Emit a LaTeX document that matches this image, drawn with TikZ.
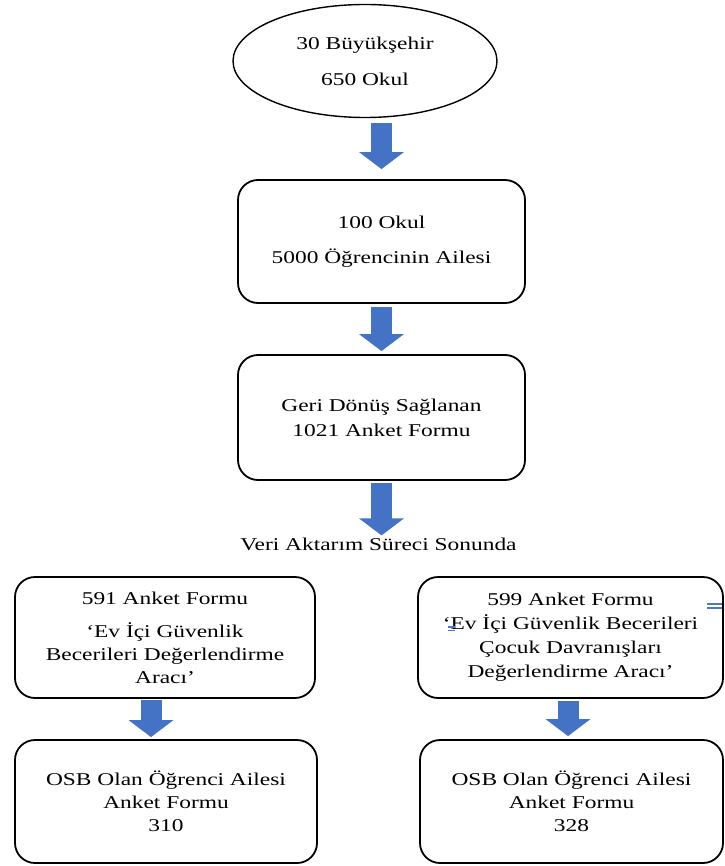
\documentclass[tikz,border=0pt]{standalone}
\usepackage{fontspec}
\setmainfont{Liberation Serif}[FakeStretch=1.3]
\usetikzlibrary{shapes.geometric,arrows.meta,calc}
\definecolor{arrowblue}{RGB}{68,114,196}
\definecolor{markblue}{RGB}{70,120,210}
\begin{document}
\begin{tikzpicture}[x=1pt,y=-1pt,
  every node/.style={font=\fontsize{18}{23}\selectfont, align=center, inner sep=0pt},
  roundbox/.style={draw=black, line width=1.8pt, rounded corners=20pt, fill=white},
  ovalbox/.style={draw=black, line width=1.4pt, ellipse, fill=white},
  barrow/.style={draw=arrowblue, line width=21pt, -{Triangle[width=44pt,length=17pt]}},
  editmark/.style={draw=markblue, line width=1.3pt}
]
\useasboundingbox (0,0) rectangle (724,866);

\node[ovalbox, minimum width=264pt, minimum height=113pt] (e) at (365,61)
  {30 Büyükşehir\\[13pt]650 Okul};
\node[roundbox, minimum width=287pt, minimum height=123pt] (b2) at (381.5,241.5)
  {100 Okul\\[12pt]5000 Öğrencinin Ailesi};
\node[roundbox, minimum width=287pt, minimum height=125pt] (b3) at (381.5,417.5)
  {Geri Dönüş Sağlanan\\[2pt]1021 Anket Formu};
\node (v) at (378.5,544) {Veri Aktarım Süreci Sonunda};
\node[roundbox, minimum width=300pt, minimum height=121pt] (l1) at (165,637.5)
  {591 Anket Formu\\[10pt]‘Ev İçi Güvenlik\\Becerileri Değerlendirme\\Aracı’};
\node[roundbox, minimum width=305pt, minimum height=121pt] (r1) at (570.5,637.5)
  {599 Anket Formu\\[1pt]‘Ev İçi Güvenlik Becerileri\\[1pt]Çocuk Davranışları\\[1pt]Değerlendirme Aracı’};
\node[roundbox, minimum width=302pt, minimum height=123pt] (l2) at (166,801.5)
  {OSB Olan Öğrenci Ailesi\\Anket Formu\\310};
\node[roundbox, minimum width=303pt, minimum height=123pt] (r2) at (571.5,801.5)
  {OSB Olan Öğrenci Ailesi\\Anket Formu\\328};

\draw[barrow] ([yshift=-5pt]e.south -| b2.north) -- ([yshift=10pt]b2.north);
\draw[barrow] ([yshift=-3pt]b2.south) -- ([yshift=3pt]b3.north);
\draw[barrow] ([yshift=-2pt]b3.south) -- ([yshift=2pt]v.north -| b3.south);
\draw[barrow] ([xshift=-14pt,yshift=-1pt]l1.south) -- ([xshift=-15pt,yshift=2pt]l2.north);
\draw[barrow] ([xshift=-2.5pt,yshift=-2pt]r1.south) -- ([xshift=-3.5pt,yshift=3pt]r2.north);

\draw[editmark] (707,604) -- (722,604);
\draw[editmark] (707,608) -- (722,608);
\draw[editmark] (448,627) -- (455,627);
\draw[editmark] (448,630.5) -- (455,630.5);
\end{tikzpicture}
\end{document}
